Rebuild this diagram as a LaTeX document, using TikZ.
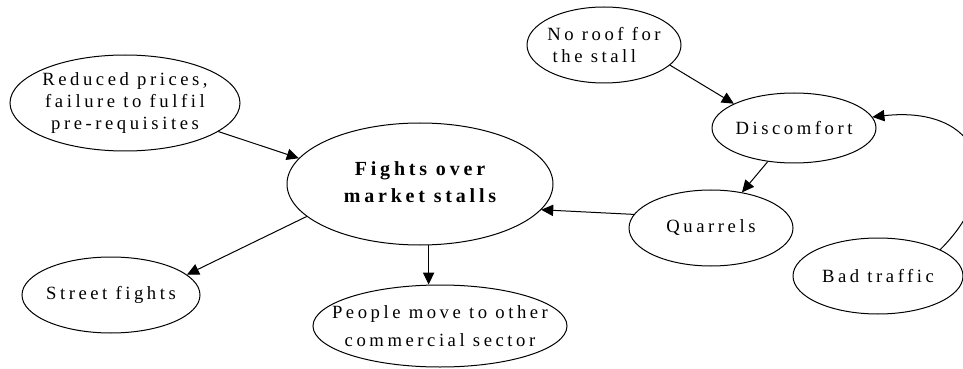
\documentclass[tikz,border=0pt]{standalone}
\usepackage{fontspec}
\setmainfont[LetterSpace=19]{Liberation Serif}
\usetikzlibrary{shapes.geometric,arrows.meta}
\tikzset{
  oval/.style={draw, ellipse, inner xsep=-40pt, inner ysep=-20pt, align=center, line width=0.75pt,
    font=\fontsize{14}{16.5}\selectfont},
  boldoval/.style={oval, font=\fontsize{15}{20}\selectfont\bfseries},
  link/.style={-{Triangle[length=9pt,width=8.5pt]}, line width=0.75pt}
}
\begin{document}
\begin{tikzpicture}[x=0.75pt,y=0.75pt]
\useasboundingbox (0,0) rectangle (963,368);
\begin{scope}
\clip (0,0) rectangle (963,368);
\node[oval, minimum width=172.5pt, minimum height=72pt] (reduced) at (125,265) {Reduced prices,\\failure to fulfil\\pre-requisites};
\node[boldoval, minimum width=199.5pt, minimum height=91.5pt] (fights) at (420,184) {\raisebox{-3pt}{\begin{tabular}{@{}c@{}}Fights over\\market stalls\end{tabular}}};
\node[oval, minimum width=133.5pt, minimum height=57pt] (street) at (111,73) {Street fights};
\node[oval, minimum width=190.5pt, minimum height=61.5pt, font=\fontsize{14}{21.5}\selectfont] (people) at (440,42) {People move to other\\commercial sector};
\node[oval, minimum width=115.5pt, minimum height=57pt, align=left] (roof) at (604,323) {No roof for\\\hspace*{4pt}the stall};
\node[oval, minimum width=123pt, minimum height=52.5pt] (discomfort) at (794,240) {Discomfort};
\node[oval, minimum width=123pt, minimum height=57pt] (quarrels) at (711,140) {Quarrels};
\node[oval, minimum width=127.5pt, minimum height=57pt] (traffic) at (878,92) {Bad traffic};
\draw[link] (reduced.-17.9) -- (fights.168.9);
\draw[link] (fights.-164.2) -- (street.15.6);
\draw[link] (fights.-82.5) -- (people.north -| fights.-82.5);
\draw[link] (roof.-17.9) -- (discomfort.158.7);
\draw[link] (discomfort.232.9) -- (quarrels.49.8);
\draw[link] (quarrels.170.9) -- (fights.-12.2);
\draw[link] (traffic.23.4) .. controls (1010,188) and (980,263) .. (discomfort.8.7);
\end{scope}
\end{tikzpicture}
\end{document}
